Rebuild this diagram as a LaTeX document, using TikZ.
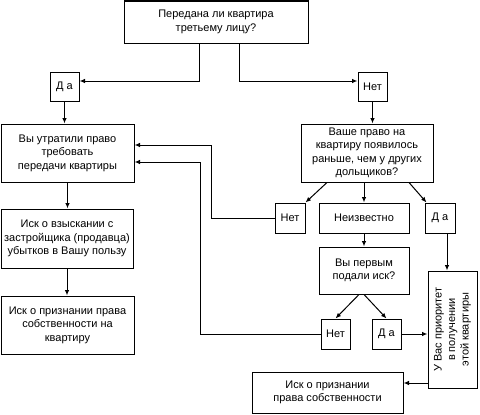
\documentclass[tikz,border=0pt]{standalone}
\usepackage{fontspec}
\setmainfont{Liberation Sans}
\usetikzlibrary{arrows.meta}
\begin{document}
\begin{tikzpicture}[x=1pt,y=-1pt,
  box/.style={draw,line width=1pt,rectangle,inner sep=1pt,align=center,
    font=\fontsize{11}{13.5}\selectfont},
  arr/.style={line width=1pt,-{Latex[length=5.5pt,width=4.5pt]}}]
\useasboundingbox[fill=white] (0,0) rectangle (480,415);
% nodes
\node[box,minimum width=184pt,minimum height=42pt] (top) at (216,22) {Передана ли квартира\\третьему лицу?};
\node[box,minimum width=29pt,minimum height=29pt] (da1) at (64.5,86.5) {Д а};
\node[box,minimum width=29pt,minimum height=29pt] (net1) at (372.5,86.5) {Нет};
\node[box,minimum width=133pt,minimum height=58pt] (lost) at (67.5,153) {Вы утратили право\\требовать\\передачи квартиры};
\node[box,minimum width=132pt,minimum height=58pt] (right) at (367,153) {Ваше право на\\квартиру появилось\\раньше, чем у других\\дольщиков?};
\node[box,minimum width=30pt,minimum height=30pt] (net2) at (290,218) {Нет};
\node[box,minimum width=90pt,minimum height=30pt] (unk) at (364,218) {Неизвестно};
\node[box,minimum width=30pt,minimum height=30pt] (da2) at (440,218) {Д а};
\node[box,minimum width=90pt,minimum height=47pt] (first) at (364,270.5) {Вы первым\\подали иск?};
\node[box,minimum width=29pt,minimum height=30pt] (net3) at (335.5,334) {Нет};
\node[box,minimum width=29pt,minimum height=30pt] (da3) at (386.5,334) {Д а};
\node[box,minimum width=49pt,minimum height=117pt] (prio) at (452.5,329.5)
  {\rotatebox{90}{\begin{tabular}{@{}c@{}}У Вас приоритет\\в получении\\этой квартиры\end{tabular}}};
\node[box,minimum width=151pt,minimum height=41pt] (iskp) at (327.5,392.5) {Иск о признании\\права собственности};
\node[box,minimum width=132pt,minimum height=59pt] (loss) at (67,238.5) {Иск о взыскании с\\застройщика (продавца)\\убытков в Вашу пользу};
\node[box,minimum width=133pt,minimum height=58pt] (iskL) at (67.5,325) {Иск о признании права\\собственности на\\квартиру};
% connectors
\draw[arr] ([xshift=-17pt]top.south) |- ([yshift=5.5pt]da1.east);
\draw[arr] ([xshift=23pt]top.south) |- ([yshift=5.5pt]net1.west);
\draw[arr] (da1.south) -- (da1.south |- lost.north);
\draw[arr] (net1.south) -- (net1.south |- right.north);
\draw[arr] ([xshift=-40pt]right.south) -- (net2.north east);
\draw[arr] (unk.north |- right.south) -- (unk.north);
\draw[arr] ([xshift=42pt]right.south) -- ([xshift=2pt]da2.north west);
\draw[arr] (net2.west) -- ++(-63,0) |- ([yshift=8pt]lost.east);
\draw[arr] (unk.south) -- (first.north);
\draw[arr] ([xshift=-5pt]first.south) -- (net3.north);
\draw[arr] (first.south) -- (da3.north);
\draw[arr] (net3.west) -- ++(-120,0) |- ([yshift=-9pt]lost.east);
\draw[arr] (da3.east) -- (da3.east -| prio.west);
\draw[arr] ([xshift=7pt]da2.south) -- ([xshift=7pt]da2.south |- prio.north);
\coordinate (pi) at ([yshift=9.5pt]iskp.east);
\draw[arr] (prio.west |- pi) -- (pi);
\draw[arr] (lost.south) -- (lost.south |- loss.north);
\draw[arr] (loss.south) -- (loss.south |- iskL.north);
\end{tikzpicture}
\end{document}
